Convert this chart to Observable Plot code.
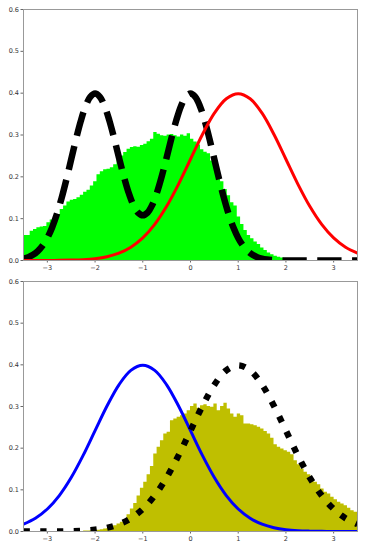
<!DOCTYPE html>
<html>
<head>
<meta charset="utf-8">
<script src="https://cdn.jsdelivr.net/npm/d3@7"></script>
<script src="https://cdn.jsdelivr.net/npm/@observablehq/plot@0.6"></script>
<style>
  html, body { margin: 0; padding: 0; background: #fff; }
  #chart svg { display: block; }
</style>
</head>
<body>
<div id="chart"></div>
<script>
// ---------- data ----------
const xTicks = [-3, -2, -1, 0, 1, 2, 3];
const yTicks = [0, 0.1, 0.2, 0.3, 0.4, 0.5, 0.6];

// histogram bins: 100 bins of width 0.07 starting at -3.5
const binStart = -3.5;
const binWidth = 0.07;

const topHist = [
  0.060, 0.060, 0.070, 0.074, 0.078, 0.080, 0.081, 0.090, 0.097, 0.102,
  0.110, 0.122, 0.130, 0.140, 0.144, 0.146, 0.150, 0.156, 0.163, 0.168,
  0.178, 0.188, 0.205, 0.212, 0.217, 0.218, 0.222, 0.229, 0.240, 0.250,
  0.258, 0.266, 0.270, 0.272, 0.271, 0.275, 0.278, 0.284, 0.290, 0.306,
  0.302, 0.298, 0.297, 0.300, 0.301, 0.298, 0.295, 0.300, 0.297, 0.303,
  0.290, 0.283, 0.276, 0.265, 0.259, 0.255, 0.238, 0.222, 0.203, 0.188,
  0.170, 0.155, 0.138, 0.130, 0.104, 0.086, 0.072, 0.060, 0.052, 0.044,
  0.038, 0.030, 0.024, 0.018, 0.014, 0.010, 0.008, 0.006, 0.005, 0.004,
  0.003, 0.002, 0.002, 0.001, 0, 0, 0, 0, 0, 0,
  0, 0, 0, 0, 0, 0, 0, 0, 0, 0
];

const bottomHist = [
  0, 0, 0, 0, 0, 0, 0, 0, 0, 0,
  0, 0, 0, 0, 0, 0, 0, 0, 0.001, 0.001,
  0.002, 0.002, 0.003, 0.004, 0.006, 0.007, 0.011, 0.014, 0.018, 0.022,
  0.028, 0.040, 0.054, 0.067, 0.085, 0.104, 0.118, 0.136, 0.156, 0.186,
  0.202, 0.218, 0.234, 0.238, 0.266, 0.270, 0.274, 0.278, 0.282, 0.290,
  0.300, 0.306, 0.296, 0.302, 0.304, 0.300, 0.298, 0.306, 0.290, 0.300,
  0.308, 0.294, 0.282, 0.274, 0.282, 0.278, 0.258, 0.258, 0.256, 0.254,
  0.250, 0.246, 0.240, 0.234, 0.224, 0.208, 0.202, 0.198, 0.194, 0.190,
  0.184, 0.170, 0.160, 0.150, 0.142, 0.136, 0.126, 0.118, 0.112, 0.102,
  0.094, 0.090, 0.082, 0.076, 0.070, 0.066, 0.062, 0.056, 0.050, 0.046
];

// bimodal dashed curve, sampled every 0.1 from -3.5 to 3.5
const bimodalX = d3.range(71).map(i => Math.round((-3.5 + i * 0.1) * 10) / 10);
const bimodalY = [
  0.0044, 0.0079, 0.0136, 0.0224, 0.0355, 0.0540, 0.0790, 0.1109, 0.1497, 0.1942,
  0.2420, 0.2897, 0.3332, 0.3683, 0.3910, 0.3990, 0.3913, 0.3689, 0.3344, 0.2921,
  0.2464, 0.2021, 0.1633, 0.1333, 0.1145, 0.1080, 0.1145, 0.1333, 0.1633, 0.2021,
  0.2464, 0.2921, 0.3344, 0.3689, 0.3913, 0.3990, 0.3910, 0.3683, 0.3332, 0.2897,
  0.2420, 0.1942, 0.1497, 0.1109, 0.0790, 0.0540, 0.0355, 0.0224, 0.0136, 0.0079,
  0.0044, 0.0024, 0.0012, 0.0006, 0.0003, 0.0001, 0, 0, 0, 0,
  0, 0, 0, 0, 0, 0, 0, 0, 0, 0, 0
];

// single-peak curves, sampled every 0.25 from -3.5 to 3.5
const curveX = d3.range(29).map(i => -3.5 + i * 0.25);
const peakRightY = [
  0.00002, 0.00005, 0.00013, 0.00035, 0.0009, 0.0020, 0.0044, 0.0091, 0.0175, 0.0317,
  0.0540, 0.0863, 0.1295, 0.1826, 0.2420, 0.3011, 0.3521, 0.3867, 0.3989, 0.3867,
  0.3521, 0.3011, 0.2420, 0.1826, 0.1295, 0.0863, 0.0540, 0.0317, 0.0175
];
const peakLeftY = [
  0.0175, 0.0317, 0.0540, 0.0863, 0.1295, 0.1826, 0.2420, 0.3011, 0.3521, 0.3867,
  0.3989, 0.3867, 0.3521, 0.3011, 0.2420, 0.1826, 0.1295, 0.0863, 0.0540, 0.0317,
  0.0175, 0.0091, 0.0044, 0.0020, 0.0009, 0.00035, 0.00013, 0.00005, 0.00002
];

// ---------- tables ----------
// step outline of the histogram: one point at each bin's left edge, plus the final right edge
const stepTable = hs => {
  const pts = hs.map((h, i) => ({x: binStart + i * binWidth, y: h}));
  pts.push({x: binStart + hs.length * binWidth, y: hs[hs.length - 1]});
  return pts;
};
const lineTable = (xs, ys) => xs.map((x, i) => ({x, y: ys[i]}));

const common = (h, mt, mb) => ({
  width: 366,
  height: h,
  marginTop: mt,
  marginBottom: mb,
  marginLeft: 23,
  marginRight: 9,
  style: {fontFamily: "DejaVu Sans, sans-serif", fontSize: "6.5px", color: "#333", background: "#fff"},
  x: {domain: [-3.5, 3.5]},
  y: {domain: [0, 0.6]}
});

const axes = [
  Plot.axisX({ticks: xTicks, tickSize: 2.5, tickPadding: 2, tickFormat: d3.format("d"), stroke: "#666", fill: "#333", label: null}),
  Plot.axisY({ticks: yTicks, tickSize: 2.5, tickPadding: 2, tickFormat: d3.format(".1f"), stroke: "#666", fill: "#333", label: null})
];

const histMark = (hs, color) =>
  Plot.areaY(stepTable(hs), {x: "x", y: "y", fill: color, curve: "step-after", clip: true});

const topChart = Plot.plot({
  ...common(275, 9, 15),
  marks: [
    histMark(topHist, "#00ff00"),
    Plot.line(lineTable(bimodalX, bimodalY), {x: "x", y: "y", stroke: "black", strokeWidth: 6.5, strokeDasharray: "24.3,10.5", strokeLinecap: "butt", curve: "catmull-rom", clip: true}),
    Plot.line(lineTable(curveX, peakRightY), {x: "x", y: "y", stroke: "#ff0000", strokeWidth: 3, curve: "catmull-rom", clip: true}),
    ...axes,
    Plot.frame({stroke: "#999", strokeWidth: 1})
  ]
});

const bottomChart = Plot.plot({
  ...common(274, 6, 18),
  marks: [
    histMark(bottomHist, "#bfbf00"),
    Plot.line(lineTable(curveX, peakLeftY), {x: "x", y: "y", stroke: "#0000ff", strokeWidth: 3, curve: "catmull-rom", clip: true}),
    Plot.line(lineTable(curveX, peakRightY), {x: "x", y: "y", stroke: "black", strokeWidth: 6.3, strokeDasharray: "6.3,10.45", strokeLinecap: "butt", curve: "catmull-rom", clip: true}),
    ...axes,
    Plot.frame({stroke: "#999", strokeWidth: 1})
  ]
});

const chart = document.getElementById("chart");
chart.appendChild(topChart);
chart.appendChild(bottomChart);
</script>
</body>
</html>
